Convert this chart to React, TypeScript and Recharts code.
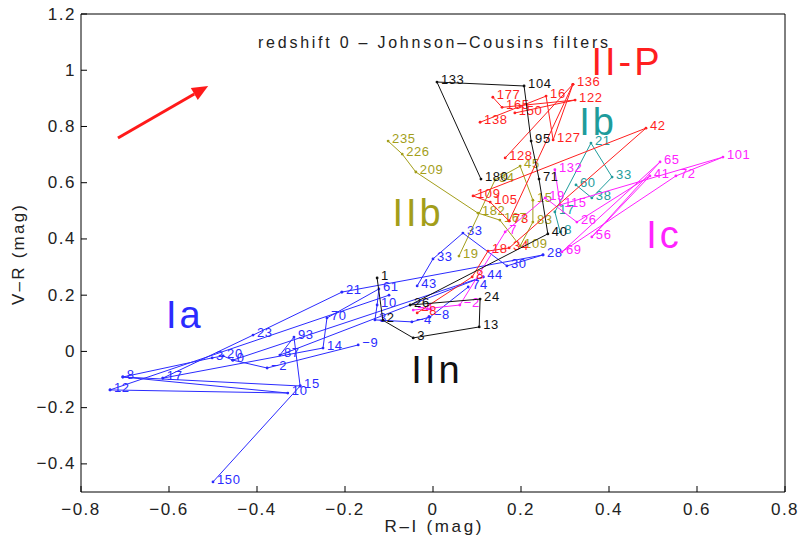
import { ScatterChart, Scatter, XAxis, YAxis, ReferenceLine } from "recharts";

type Row = [number, number, string];

// axis ticks
const xTicks = [-0.8, -0.6, -0.4, -0.2, 0, 0.2, 0.4, 0.6, 0.8];
const yTicks = [-0.4, -0.2, 0, 0.2, 0.4, 0.6, 0.8, 1, 1.2];

// Type Ia tracks (R-I, V-R, day)
const iaA: Row[] = [[-0.5, -0.464, "150"], [-0.302, -0.123, "15"], [-0.316, 0.051, "93"], [-0.348, -0.013, "87"], [0.114, 0.265, "44"]];
const iaB: Row[] = [[-0.734, -0.137, "12"], [-0.33, -0.148, "10"], [-0.705, -0.091, "8"], [-0.502, -0.023, "3"], [-0.477, -0.016, "20"], [-0.455, -0.031, "0"], [-0.377, -0.059, "−2"], [-0.17, 0.023, "−9"]];
const iaC: Row[] = [[-0.614, -0.095, "17"], [-0.409, 0.058, "23"], [-0.207, 0.211, "21"]];
const iaD: Row[] = [[-0.614, -0.095, ""], [-0.25, 0.012, "14"], [-0.241, 0.119, "70"], [-0.123, 0.222, "61"], [-0.127, 0.165, "10"], [-0.132, 0.112, "3"], [-0.048, 0.105, "−4"], [-0.007, 0.122, "−8"], [0.08, 0.229, "74"]];
const iaE: Row[] = [[-0.036, 0.233, "43"], [0, 0.329, "33"], [0.068, 0.421, "33"], [0.168, 0.304, "30"], [0.25, 0.343, "28"]];
const iaLink1: Row[] = [[-0.705, -0.091, ""], [-0.302, -0.123, ""]];
const iaLink2: Row[] = [[-0.734, -0.137, ""], [-0.1, 0.2, ""]];
const iaLink3: Row[] = [[-0.207, 0.211, ""], [0.25, 0.343, ""]];
const iaLink4: Row[] = [[-0.455, -0.031, ""], [0.114, 0.265, ""]];

// Type IIn
const iin: Row[] = [[-0.127, 0.261, "1"], [-0.114, 0.111, "2"], [-0.045, 0.048, "3"], [0.105, 0.087, "13"], [0.107, 0.186, "24"], [-0.052, 0.165, "26"], [0.261, 0.418, "40"], [0.241, 0.613, "71"], [0.223, 0.748, "95"], [0.207, 0.944, "104"], [0.009, 0.958, "133"], [0.109, 0.613, "180"]];

// Type II-P
const iipA: Row[] = [[-0.036, 0.137, "−8"], [0.089, 0.265, "8"], [0.125, 0.357, "18"], [0.173, 0.368, "34"], [0.484, 0.794, "42"], [0.091, 0.553, "109"], [0.13, 0.531, "105"], [0.173, 0.464, "73"]];
const iipB: Row[] = [[0.164, 0.688, "128"], [0.318, 0.95, "136"], [0.273, 0.752, "127"], [0.257, 0.908, "16"], [0.107, 0.815, "138"]];
const iipC: Row[] = [[0.186, 0.848, "150"], [0.323, 0.894, "122"], [0.157, 0.868, "165"], [0.136, 0.904, "177"]];
const iipLink: Row[] = [[0.173, 0.464, ""], [0.318, 0.95, ""]];

// Type IIb
const iib: Row[] = [[0.059, 0.339, "19"], [0.141, 0.61, "34"], [0.198, 0.659, "45"], [0.227, 0.538, "15"], [0.227, 0.46, "83"], [0.198, 0.375, "109"], [0.152, 0.467, "167"], [0.102, 0.492, "182"], [-0.039, 0.638, "209"], [-0.07, 0.702, "226"], [-0.102, 0.748, "235"]];

// Type Ib
const ib: Row[] = [[0.289, 0.425, "8"], [0.277, 0.496, "17"], [0.359, 0.741, "21"], [0.407, 0.62, "33"], [0.361, 0.546, "38"], [0.325, 0.592, "60"]];

// Type Ic
const ic: Row[] = [[-0.045, 0.147, "−4"], [0.061, 0.165, "−2"], [0.164, 0.425, "7"], [0.255, 0.546, "19"], [0.327, 0.46, "26"], [0.493, 0.624, "41"], [0.361, 0.407, "56"], [0.516, 0.674, "65"], [0.293, 0.354, "69"], [0.552, 0.624, "72"], [0.659, 0.691, "101"], [0.289, 0.521, "115"], [0.277, 0.646, "132"]];

// class names and where they sit
const typeNames = ["Ia", "II-P", "Ib", "IIb", "Ic", "IIn"];
const typeX = [-0.564, 0.441, 0.375, -0.034, 0.525, 0.009];
const typeY = [0.13, 1.029, 0.815, 0.492, 0.414, -0.066];

const arrowFrom = { x: -0.716, y: 0.759 };
const arrowTo = { x: -0.511, y: 0.944 };

const COLORS: Record<string, string> = {
  Ia: "#2b2bff",
  "II-P": "#ff1f1f",
  Ib: "#1e9c9c",
  IIb: "#a39e1a",
  Ic: "#ff22ff",
  IIn: "#111111",
};

const FONT = "'Liberation Sans', Arial, Helvetica, sans-serif";

const tracks: { rows: Row[]; type: string }[] = [
  { rows: iaA, type: "Ia" }, { rows: iaB, type: "Ia" }, { rows: iaC, type: "Ia" },
  { rows: iaD, type: "Ia" }, { rows: iaE, type: "Ia" }, { rows: iaLink1, type: "Ia" },
  { rows: iaLink2, type: "Ia" }, { rows: iaLink3, type: "Ia" }, { rows: iaLink4, type: "Ia" },
  { rows: iib, type: "IIb" }, { rows: ib, type: "Ib" }, { rows: ic, type: "Ic" },
  { rows: iipA, type: "II-P" }, { rows: iipB, type: "II-P" }, { rows: iipC, type: "II-P" },
  { rows: iipLink, type: "II-P" }, { rows: iin, type: "IIn" },
];

const toPts = (rows: Row[]) => rows.map(([x, y, d]) => ({ x, y, d }));
const typePts = typeNames.map((name, i) => ({ x: typeX[i], y: typeY[i], name }));

const fmt = (v: number) => (v === 0 ? "0" : (v < 0 ? "−" : "") + String(Math.round(Math.abs(v) * 10) / 10));

const dotShape = (color: string) => (p: any) => (
  <g>
    <circle cx={p.cx} cy={p.cy} r={1.4} fill={color} />
    {p.payload.d ? (
      <text x={p.cx + 4} y={p.cy + 2} fill={color} fontSize={13} fontFamily={FONT} letterSpacing={0.6}>
        {p.payload.d}
      </text>
    ) : null}
  </g>
);

const typeShape = (p: any) => (
  <text x={p.cx} y={p.cy} textAnchor="middle" dominantBaseline="central" fill={COLORS[p.payload.name]}
    fontSize={38} fontFamily={FONT} letterSpacing={3}>
    {p.payload.name}
  </text>
);

const XTick = (p: any) => (
  <text x={p.x} y={p.y} dy="0.71em" textAnchor="middle" fill="#222" fontSize={17} fontFamily={FONT} letterSpacing={1.5}>
    {fmt(p.payload.value)}
  </text>
);

const YTick = (p: any) => (
  <text x={p.x} y={p.y} dominantBaseline="central" textAnchor="end" fill="#222" fontSize={17} fontFamily={FONT} letterSpacing={1.5}>
    {fmt(p.payload.value)}
  </text>
);

const Arrow = (p: any) => {
  const { x1, y1, x2, y2 } = p;
  if (x1 == null || x2 == null) return null;
  const a = Math.atan2(y2 - y1, x2 - x1);
  const L = 16, W = 7;
  const bx = x2 - L * Math.cos(a), by = y2 - L * Math.sin(a);
  const pts = [
    `${x2},${y2}`,
    `${bx + W * Math.sin(a)},${by - W * Math.cos(a)}`,
    `${bx - W * Math.sin(a)},${by + W * Math.cos(a)}`,
  ].join(" ");
  return (
    <g>
      <line x1={x1} y1={y1} x2={bx} y2={by} stroke="#ff1a1a" strokeWidth={3} />
      <polygon points={pts} fill="#ff1a1a" />
    </g>
  );
};

export default function App() {
  return (
    <div style={{ position: "absolute", left: 0, top: 0, width: 800, height: 546, background: "#fff" }}>
      <ScatterChart width={800} height={546} margin={{ top: 13, right: 14, bottom: 0, left: 0 }}>
        <XAxis
          type="number" dataKey="x" domain={[-0.8, 0.8]} ticks={xTicks} allowDataOverflow
          height={54} tickSize={-6} tickMargin={17} tick={<XTick />}
          axisLine={{ stroke: "#000" }} tickLine={{ stroke: "#000" }}
          label={{
            content: (lp: any) => {
              const vb = lp.viewBox;
              return (
                <text x={vb.x + vb.width / 2} y={vb.y + 40} textAnchor="middle" fill="#222"
                  fontSize={17} fontFamily={FONT} textLength={97} lengthAdjust="spacing">
                  R–I (mag)
                </text>
              );
            },
          }}
        />
        <XAxis xAxisId="top" orientation="top" type="number" domain={[-0.8, 0.8]} ticks={xTicks}
          allowDataOverflow height={1} tickSize={-6} tick={false}
          axisLine={{ stroke: "#000" }} tickLine={{ stroke: "#000" }} />
        <YAxis
          type="number" dataKey="y" domain={[-0.5, 1.2]} ticks={yTicks} allowDataOverflow
          width={81} tickSize={-6} tickMargin={11} tick={<YTick />}
          axisLine={{ stroke: "#000" }} tickLine={{ stroke: "#000" }}
          label={{
            content: (lp: any) => {
              const vb = lp.viewBox;
              const cx = vb.x + 18, cy = vb.y + vb.height / 2 + 2;
              return (
                <text x={cx} y={cy} transform={`rotate(-90 ${cx} ${cy})`} textAnchor="middle"
                  dominantBaseline="central" fill="#222" fontSize={17} fontFamily={FONT}
                  textLength={100} lengthAdjust="spacing">
                  V–R (mag)
                </text>
              );
            },
          }}
        />
        <YAxis yAxisId="right" orientation="right" type="number" domain={[-0.5, 1.2]} ticks={yTicks}
          allowDataOverflow width={1} tickSize={-6} tick={false}
          axisLine={{ stroke: "#000" }} tickLine={{ stroke: "#000" }} />

        {tracks.map((t, i) => (
          <Scatter
            key={i}
            data={toPts(t.rows)}
            line={{ stroke: COLORS[t.type], strokeWidth: 1 }}
            lineType="joint"
            shape={dotShape(COLORS[t.type])}
            isAnimationActive={false}
          />
        ))}

        <Scatter data={typePts} shape={typeShape} isAnimationActive={false} />

        <Scatter
          data={[{ x: 0, y: 1.1 }]}
          isAnimationActive={false}
          shape={(p: any) => (
            <text x={p.cx} y={p.cy} textAnchor="middle" dominantBaseline="central" fill="#222"
              fontSize={16} fontFamily={FONT} textLength={350} lengthAdjust="spacing">
              redshift 0 – Johnson–Cousins filters
            </text>
          )}
        />

        <ReferenceLine segment={[arrowFrom, arrowTo]} shape={Arrow} />
      </ScatterChart>
    </div>
  );
}
